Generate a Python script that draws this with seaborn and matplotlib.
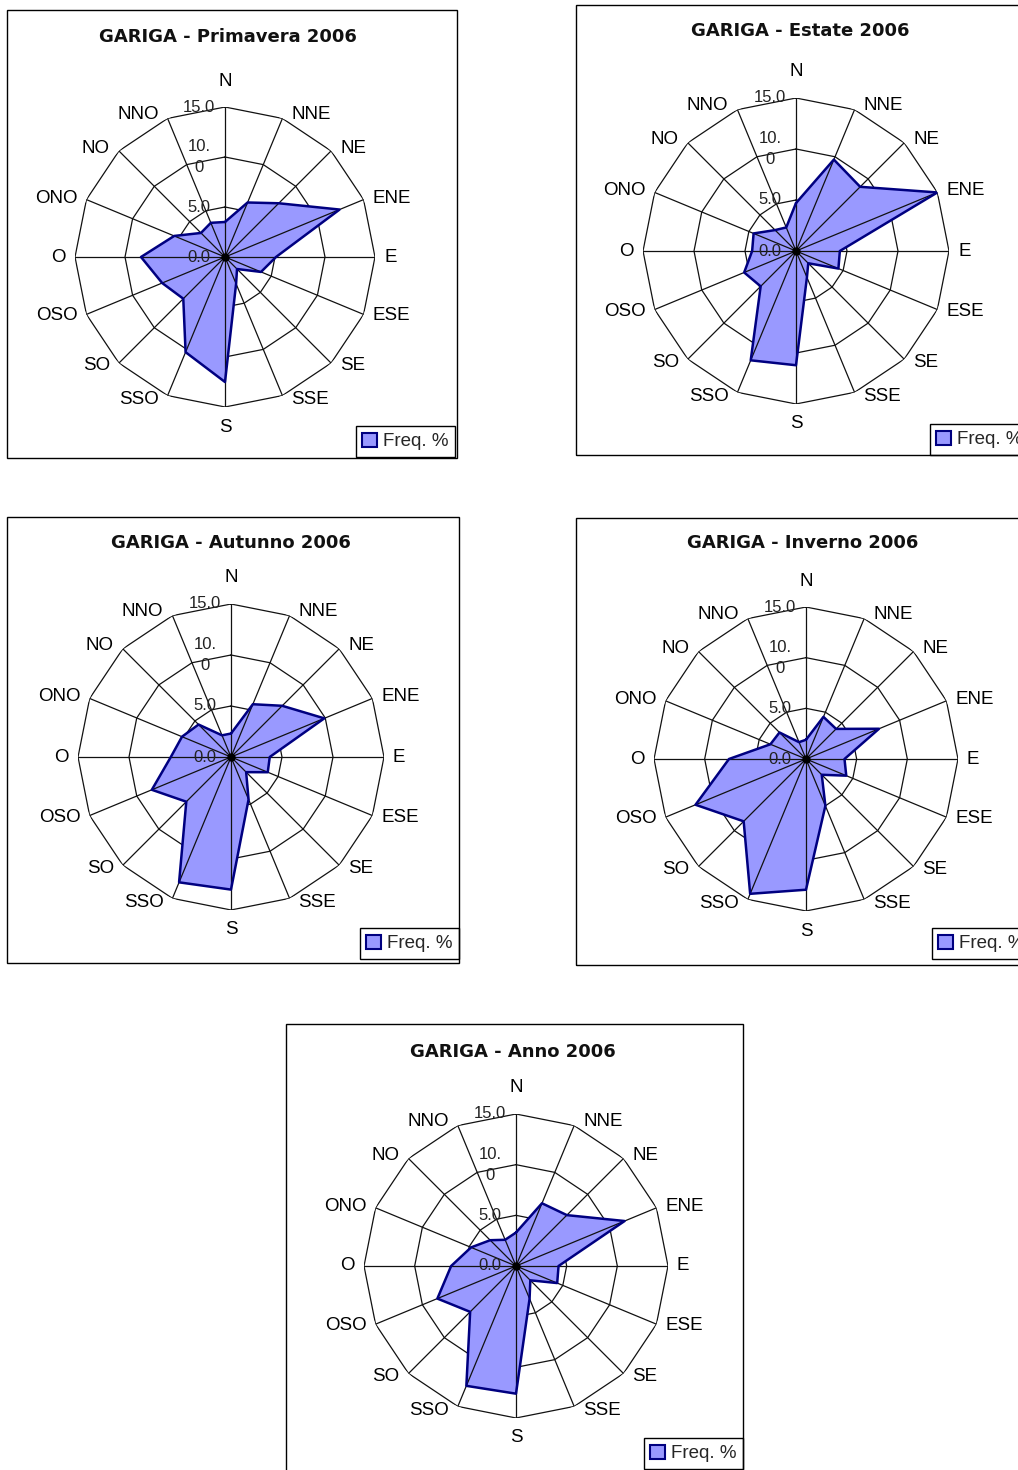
import numpy as np
import matplotlib
matplotlib.use("Agg")
import matplotlib.pyplot as plt
import seaborn as sns
from matplotlib.patches import Patch, Rectangle

# ==========================================
# dati: frequenze % per direzione (GARIGA 2006)
# ==========================================
DIREZIONI = ["N", "NNE", "NE", "ENE", "E", "ESE", "SE", "SSE",
             "S", "SSO", "SO", "OSO", "O", "ONO", "NO", "NNO"]

primavera = [3.5, 5.9, 7.6, 12.4, 5.1, 3.9, 1.7, 2.9, 12.5, 10.3, 5.9, 6.8, 8.4, 5.5, 3.4, 3.7]
estate = [4.7, 9.7, 8.9, 15.0, 4.3, 4.5, 1.7, 2.8, 11.2, 11.6, 4.9, 5.5, 4.3, 4.5, 2.9, 2.5]
autunno = [2.3, 5.6, 7.1, 9.9, 3.8, 3.9, 2.1, 4.5, 13.0, 13.3, 6.2, 8.4, 5.9, 5.2, 4.5, 2.3]
inverno = [1.9, 4.5, 4.2, 7.8, 3.8, 4.3, 2.2, 5.0, 12.9, 14.4, 8.7, 11.8, 7.6, 3.8, 3.7, 1.8]
anno = [3.3, 6.7, 7.1, 11.6, 4.2, 4.4, 2.0, 3.5, 12.6, 12.8, 6.4, 8.4, 6.4, 4.8, 3.6, 2.8]

TITOLI = ["GARIGA - Primavera 2006", "GARIGA - Estate 2006", "GARIGA - Autunno 2006",
          "GARIGA - Inverno 2006", "GARIGA - Anno 2006"]
SERIE = [primavera, estate, autunno, inverno, anno]

RING_VALUES = [5, 10, 15]
RING_LABELS = ["0.0", "5.0", "10.\n0", "15.0"]

# ==========================================
# layout (pixel)
# ==========================================
W, H = 1018, 1470
# centro x, centro y, raggio
CENTRI = [(225, 257, 150), (796, 251, 153), (231, 757, 153), (806, 759, 152), (516, 1266, 152)]
BOX = [(7, 10, 457, 458), (576, 5, 1024, 455), (7, 517, 459, 963),
       (576, 518, 1024, 965), (286, 1024, 743, 1474)]
TITOLO_POS = [(228, 37), (800, 31), (231, 543), (803, 543), (513, 1052)]
LEGENDA_POS = [(455, 457), (1029, 455), (459, 959), (1031, 959), (743, 1469)]

FILL = "#9999FF"
NAVY = "#000080"

sns.set_theme(style="white")
plt.rcParams['font.family'] = ['Liberation Sans', 'DejaVu Sans']


def px(x, y):
    return x / W, 1 - y / H


def radar(fig, values, titolo, centro, box, tpos, lpos):
    cx, cy, r = centro
    ax = fig.add_axes([(cx - r) / W, 1 - (cy + r) / H, 2 * r / W, 2 * r / H],
                      projection="polar")
    ax.set_theta_zero_location("N")
    ax.set_theta_direction(-1)
    ax.set_ylim(0, 15)
    ax.grid(False)
    ax.set_xticks([])
    ax.set_yticks([])
    ax.spines["polar"].set_visible(False)
    ax.patch.set_alpha(0)

    theta = np.linspace(0, 2 * np.pi, len(DIREZIONI), endpoint=False)
    t_closed = np.append(theta, theta[0])
    v_closed = np.append(values, values[0])

    # anelli poligonali
    for rv in RING_VALUES:
        ax.plot(t_closed, [rv] * len(t_closed), color="#111111", lw=0.9, zorder=1)

    ax.fill(t_closed, v_closed, facecolor=FILL, edgecolor="none", zorder=2)

    # raggi
    for t in theta:
        ax.plot([t, t], [0, 15], color="#111111", lw=0.9, zorder=3)

    ax.plot(t_closed, v_closed, color=NAVY, lw=1.8, zorder=4)
    ax.plot([0], [0], "o", color="black", ms=5, zorder=5)

    # etichette direzioni
    for t, lab in zip(theta, DIREZIONI):
        s, c = np.sin(t), np.cos(t)
        if abs(s) < 0.1:
            ha = "center"
            off = (0, 26) if c > 0 else (0, -20)
        else:
            ha = "left" if s > 0 else "right"
            off = (9 * np.sign(s), 4 * c)
        ax.annotate(lab, xy=(t, 15), xytext=off, textcoords="offset pixels",
                    ha=ha, va="center", fontsize=13.5, color="black",
                    annotation_clip=False, zorder=6)

    # etichette asse valori
    for rv, lab in zip([0] + RING_VALUES, RING_LABELS):
        ax.annotate(lab, xy=(0, rv), xytext=(-26, 0), textcoords="offset pixels",
                    ha="center", va="center", fontsize=12, color="#222222",
                    linespacing=1.5, annotation_clip=False, zorder=6)

    x0, y0, x1, y1 = box
    fig.add_artist(Rectangle(px(x0, y1), (x1 - x0) / W, (y1 - y0) / H,
                             transform=fig.transFigure, fill=False,
                             edgecolor="black", lw=1.0))

    fig.text(*px(*tpos), titolo, ha="center", va="center", fontsize=13,
             fontweight="bold", family="DejaVu Sans", color="#111111")

    leg = ax.legend(handles=[Patch(facecolor=FILL, edgecolor=NAVY, lw=1.5, label="Freq. %")],
                    loc="lower right", bbox_to_anchor=px(*lpos),
                    bbox_transform=fig.transFigure, frameon=True, fancybox=False,
                    edgecolor="black", framealpha=1, fontsize=13.5,
                    handlelength=0.8, handleheight=0.8, handletextpad=0.3,
                    borderpad=0.35, borderaxespad=0)
    leg.get_frame().set_linewidth(1.0)


fig = plt.figure(figsize=(W / 100, H / 100), dpi=100)
fig.patch.set_facecolor("white")

for vals, tit, cen, bx, tp, lp in zip(SERIE, TITOLI, CENTRI, BOX, TITOLO_POS, LEGENDA_POS):
    radar(fig, vals, tit, cen, bx, tp, lp)

fig.savefig("out.png", dpi=100)
